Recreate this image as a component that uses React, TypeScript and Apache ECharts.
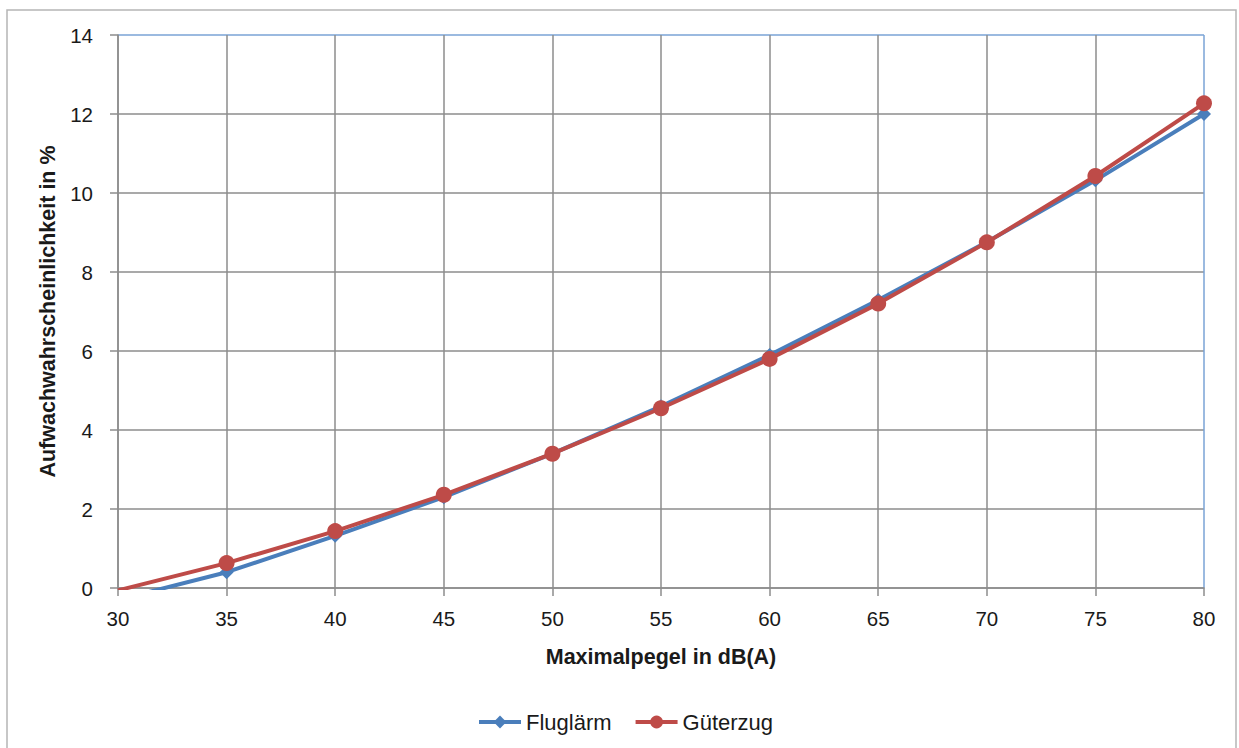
import React, { useEffect, useRef } from "react";
import * as echarts from "echarts";

const xValues = [30, 35, 40, 45, 50, 55, 60, 65, 70, 75, 80];
const fluglaerm = [-0.3, 0.4, 1.32, 2.3, 3.4, 4.6, 5.9, 7.29, 8.76, 10.32, 12.0];
const gueterzug = [-0.06, 0.63, 1.44, 2.36, 3.4, 4.55, 5.8, 7.2, 8.75, 10.43, 12.27];
const yTicks = [0, 2, 4, 6, 8, 10, 12, 14];
const seriesNames = ["Fluglärm", "Güterzug"];
const xAxisTitle = "Maximalpegel in dB(A)";
const yAxisTitle = "Aufwachwahrscheinlichkeit in %";

const FONT = "'Liberation Sans', Arial, sans-serif";
const GRID_GRAY = "#8c8c8c";
const BORDER_BLUE = "#7aa3d6";
const TEXT = "#1a1a1a";

export default function App() {
  const ref = useRef<HTMLDivElement>(null);
  useEffect(() => {
    if (!ref.current) return;
    const chart = echarts.init(ref.current, null, { renderer: "svg" });
    const xSplitColors = xValues.map((_, i) => (i === xValues.length - 1 ? BORDER_BLUE : GRID_GRAY));
    const ySplitColors = yTicks.map((v, i) => (i === yTicks.length - 1 ? BORDER_BLUE : GRID_GRAY));
    chart.setOption({
      animation: false,
      backgroundColor: "#ffffff",
      textStyle: { fontFamily: FONT },
      graphic: [
        {
          type: "rect",
          shape: { x: 7, y: 10, width: 1229, height: 760 },
          style: { fill: "none", stroke: "#b5b5b5", lineWidth: 1.5 },
          silent: true,
        },
      ],
      grid: { left: 118, right: 35, top: 35, bottom: 160 },
      legend: {
        top: 706,
        left: 472,
        itemWidth: 42,
        itemHeight: 16,
        itemGap: 22,
        itemTextGap: 3,
        lineStyle: { width: 4 },
        textStyle: { fontSize: 22, color: TEXT, fontFamily: FONT },
        data: seriesNames,
      },
      xAxis: {
        type: "value",
        min: 30,
        max: 80,
        interval: 5,
        name: xAxisTitle,
        nameLocation: "middle",
        nameGap: 58,
        nameTextStyle: { fontSize: 21.5, fontWeight: "bold", color: TEXT, fontFamily: FONT },
        axisLine: { show: true, lineStyle: { color: GRID_GRAY, width: 1.5 } },
        axisTick: { show: true, length: 8, lineStyle: { color: GRID_GRAY, width: 1.5 } },
        axisLabel: { fontSize: 20.5, color: TEXT, margin: 20, fontFamily: FONT },
        splitLine: { show: true, lineStyle: { color: xSplitColors, width: 1.5 } },
      },
      yAxis: {
        type: "value",
        min: 0,
        max: 14,
        interval: 2,
        name: yAxisTitle,
        nameLocation: "middle",
        nameRotate: 90,
        nameGap: 59,
        nameTextStyle: { fontSize: 21.5, fontWeight: "bold", color: TEXT, fontFamily: FONT },
        axisLine: { show: true, lineStyle: { color: GRID_GRAY, width: 1.5 } },
        axisTick: { show: true, length: 8, lineStyle: { color: GRID_GRAY, width: 1.5 } },
        axisLabel: { fontSize: 20.5, color: TEXT, margin: 25, fontFamily: FONT },
        splitLine: { show: true, lineStyle: { color: ySplitColors, width: 1.5 } },
      },
      series: [
        {
          name: seriesNames[0],
          type: "line",
          data: xValues.map((x, i) => [x, fluglaerm[i]]),
          symbol: "diamond",
          symbolSize: 14,
          lineStyle: { color: "#4a7ebb", width: 4 },
          itemStyle: { color: "#4a7ebb" },
          clip: true,
          z: 3,
        },
        {
          name: seriesNames[1],
          type: "line",
          data: xValues.map((x, i) => [x, gueterzug[i]]),
          symbol: "circle",
          symbolSize: 16,
          lineStyle: { color: "#be4b48", width: 4 },
          itemStyle: { color: "#be4b48" },
          clip: true,
          z: 4,
        },
      ],
    });
    return () => chart.dispose();
  }, []);
  return (
    <div
      ref={ref}
      style={{ position: "absolute", left: 0, top: 0, width: 1239, height: 748 }}
    />
  );
}
